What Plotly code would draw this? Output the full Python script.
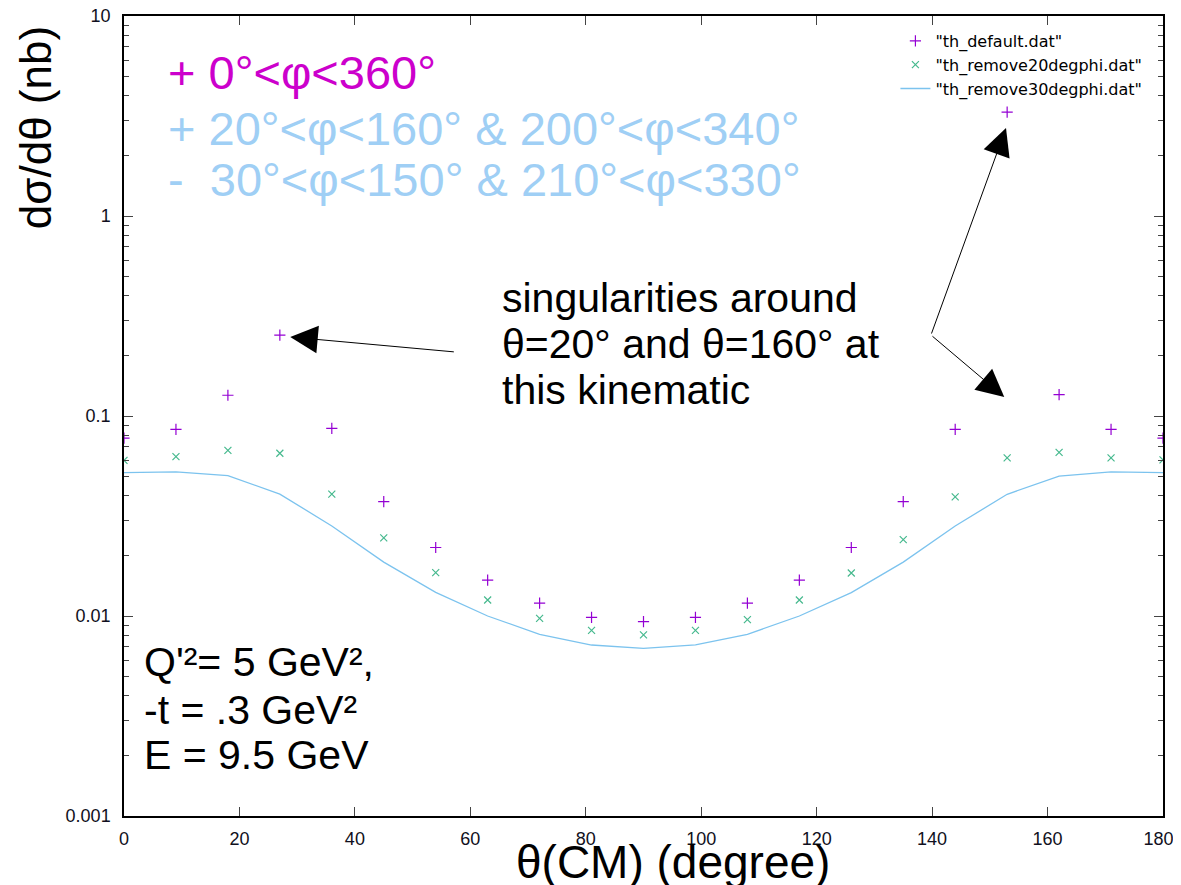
import plotly.graph_objects as go

theta = [0, 9, 18, 27, 36, 45, 54, 63, 72, 81, 90, 99, 108, 117, 126, 135, 144, 153, 162, 171, 180]

th_default = [0.0776, 0.0858, 0.127, 0.254, 0.0868, 0.0373, 0.0220, 0.0151, 0.0116, 0.00985,
              0.00937, 0.00985, 0.0116, 0.0151, 0.0220, 0.0373, 0.0858, 3.31, 0.128, 0.0858, 0.0776]

th_remove20 = [0.0600, 0.0626, 0.0673, 0.0651, 0.0407, 0.0246, 0.01647, 0.01202, 0.00973, 0.00848,
               0.00804, 0.00848, 0.0096, 0.01202, 0.0164, 0.0241, 0.0394, 0.0617, 0.0658, 0.0617, 0.0603]

th_remove30 = [0.0521, 0.0525, 0.0503, 0.0407, 0.0282, 0.0186, 0.01313, 0.0100, 0.0081, 0.00716,
               0.00689, 0.00718, 0.0081, 0.0100, 0.0131, 0.0186, 0.0282, 0.0406, 0.0501, 0.0525, 0.0521]

series_names = ['"th_default.dat"', '"th_remove20degphi.dat"', '"th_remove30degphi.dat"']
x_ticks = [0, 20, 40, 60, 80, 100, 120, 140, 160, 180]
x_tick_labels = ["0", "20", "40", "60", "80", "100", "120", "140", "160", "180\u2002"]
y_ticks = [0.001, 0.01, 0.1, 1, 10]
y_tick_labels = ["0.001", "0.01", "0.1", "1", "10"]

fig = go.Figure()
fig.add_trace(go.Scatter(x=theta, y=th_default, mode="markers", name=series_names[0],
                         marker=dict(symbol="cross-thin-open", size=8, color="#9400D3",
                                     line=dict(width=1.2, color="#9400D3"))))
fig.add_trace(go.Scatter(x=theta, y=th_remove20, mode="markers", name=series_names[1],
                         marker=dict(symbol="x-thin-open", size=7, color="#46b98e",
                                     line=dict(width=1.2, color="#46b98e"))))
fig.add_trace(go.Scatter(x=theta, y=th_remove30, mode="lines", name=series_names[2],
                         line=dict(color="#7cc3ee", width=1.3)))

big = "Liberation Sans, Arial, sans-serif"
ann = []
def txt(x, y, s, size, color="black", xanchor="left", angle=0):
    ann.append(dict(x=x, y=y, xref="paper", yref="paper", text=s, showarrow=False,
                    xanchor=xanchor, yanchor="middle", textangle=angle,
                    font=dict(family=big, size=size, color=color)))

txt(0.0404, 0.929, "+ 0°&lt;φ&lt;360°", 47, "#cc00cc")
txt(0.0404, 0.860, "+ 20°&lt;φ&lt;160° &amp; 200°&lt;φ&lt;340°", 47, "#9fcff5")
txt(0.0404, 0.795, "-\u00a0 30°&lt;φ&lt;150° &amp; 210°&lt;φ&lt;330°", 47, "#9fcff5")

txt(0.3615, 0.6475, "singularities around", 41)
txt(0.3615, 0.5900, "θ=20° and θ=160° at", 41)
txt(0.3615, 0.5325, "this kinematic", 41)

txt(0.0170, 0.1925, "Q'²= 5 GeV²,", 41)
txt(0.0170, 0.1325, "-t = .3 GeV²", 41)
txt(0.0170, 0.0763, "E = 9.5 GeV", 41)

# axis titles
txt(0.5284, -0.0575, "θ(CM) (degree)", 46, xanchor="center")
txt(-0.0857, 0.861, "dσ/dθ (nb)", 44, xanchor="center", angle=-90)

def arrow(xh, yh, xt, yt):
    ann.append(dict(x=xh, y=yh, ax=xt, ay=yt, xref="x", yref="y", axref="x", ayref="y",
                    text="", showarrow=True, arrowhead=2, arrowsize=5.5, arrowwidth=1,
                    arrowcolor="black", standoff=0, startstandoff=0))

arrow(28.8, -0.605, 57.4, -0.68)
arrow(152.8, 0.44, 139.8, -0.595)
arrow(152.5, -0.905, 139.8, -0.595)

tickfont = dict(family="Liberation Sans, Arial, sans-serif", size=18, color="#101020")

fig.update_layout(
    width=1173, height=877,
    margin=dict(l=116, r=18, t=8, b=69, autoexpand=False),
    paper_bgcolor="white", plot_bgcolor="white",
    annotations=ann,
    showlegend=True,
    legend=dict(x=0.985, y=0.99, xanchor="right", yanchor="top",
                bgcolor="rgba(0,0,0,0)", font=dict(family="DejaVu Sans", size=16, color="black"),
                tracegroupgap=0, itemwidth=30),
    xaxis=dict(range=[0, 180], tickvals=x_ticks, ticktext=x_tick_labels,
               ticks="inside", ticklen=9, tickwidth=1,
               showline=True, linecolor="black", linewidth=1.5, mirror="allticks",
               showgrid=False, zeroline=False, automargin=False, ticklabeloverflow="allow",
               ticklabelstandoff=6, tickfont=tickfont),
    yaxis=dict(type="log", range=[-3, 1], tickvals=y_ticks, ticktext=y_tick_labels,
               ticks="inside", ticklen=9, tickwidth=1,
               minor=dict(ticks="inside", ticklen=5, tickwidth=1, dtick="D1", showgrid=False),
               showline=True, linecolor="black", linewidth=1.5, mirror="allticks",
               showgrid=False, zeroline=False, automargin=False, ticklabeloverflow="allow",
               ticklabelstandoff=8, tickfont=tickfont),
)

fig.write_html("out.html")
